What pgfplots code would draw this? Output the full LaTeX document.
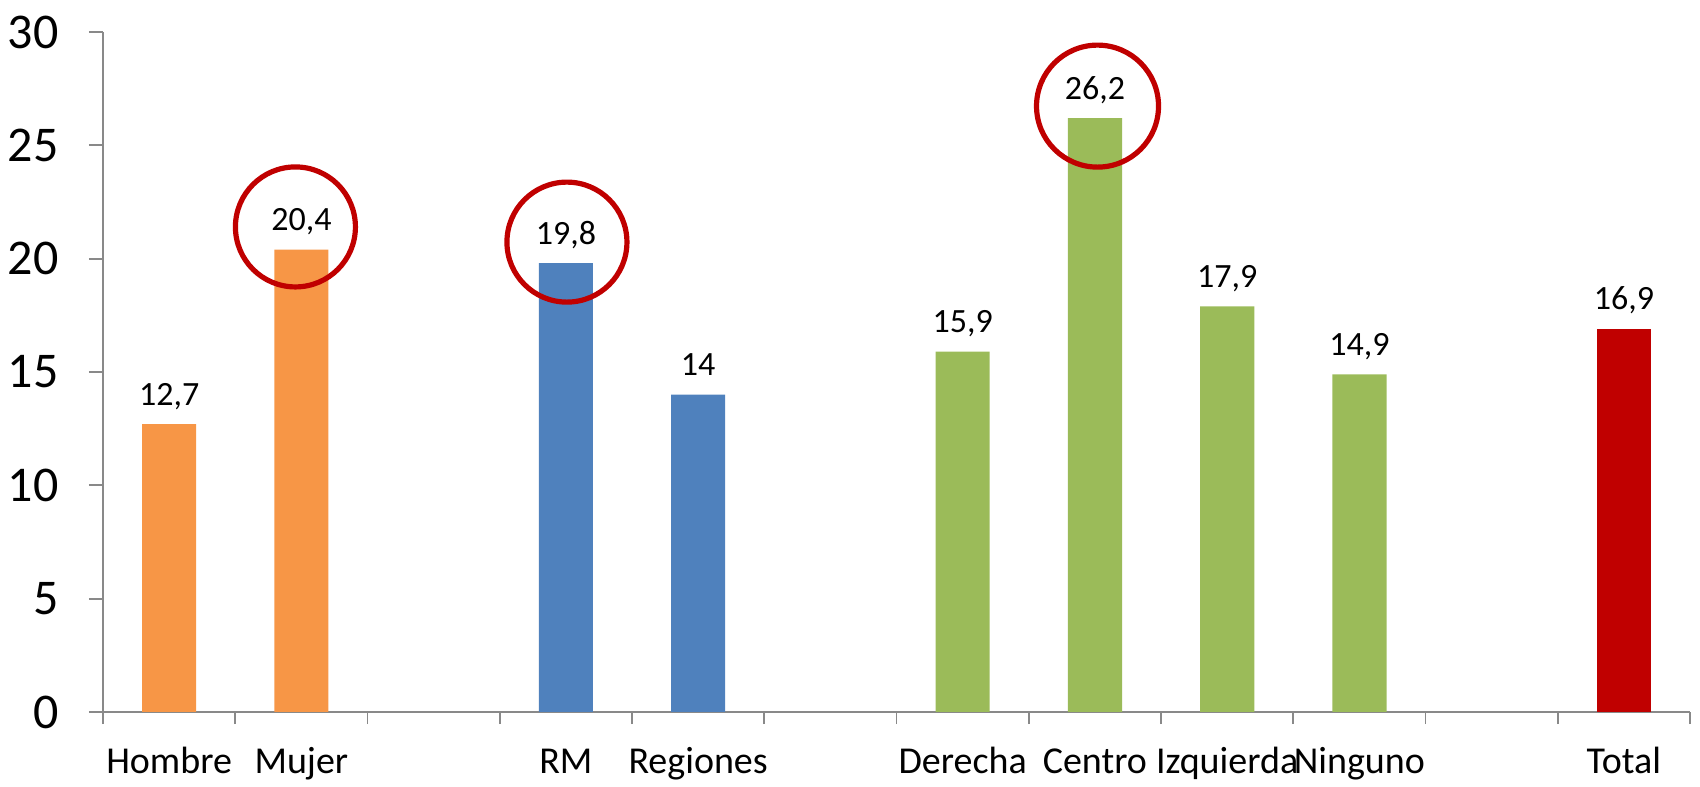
\documentclass[border=0pt]{standalone}
\usepackage{pgfplots}
\pgfplotsset{compat=1.18}
\usepackage{fontspec}
\setmainfont{Carlito}
\definecolor{cOrange}{HTML}{F79646}
\definecolor{cBlue}{HTML}{4F81BD}
\definecolor{cGreen}{HTML}{9BBB59}
\definecolor{cRed}{HTML}{C00000}
\definecolor{cAxis}{HTML}{898989}
\begin{document}
\begin{tikzpicture}
\useasboundingbox (-51.5pt,-37pt) rectangle (798.5pt,356pt);
\begin{axis}[
  at={(0,0)}, anchor=south west,
  scale only axis,
  width=793.5pt, height=340pt,
  xmin=-0.5, xmax=11.5, ymin=0, ymax=30,
  ybar, bar width=0.41, bar shift=0pt,
  axis x line*=bottom, axis y line*=left,
  axis line style={cAxis, line width=0.9pt},
  /pgf/number format/assume math mode=true,
  /pgf/number format/use comma,
  ytick={0,5,...,30},
  ytick style={cAxis, line width=0.9pt},
  major tick length=7pt,
  tick align=outside,
  yticklabel style={font=\fontsize{25}{30}\selectfont, anchor=east, inner sep=0pt, xshift=-15pt},
  xtick={0,...,11},
  xticklabels={Hombre,Mujer,,RM,Regiones,,Derecha,Centro,Izquierda,Ninguno,,Total},
  every major x tick/.append style={draw=none},
  minor xtick={-0.5,0.5,...,11.5},
  every minor x tick/.append style={draw=cAxis, line width=0.9pt},
  minor tick length=6pt,
  xticklabel style={font=\fontsize{19}{23}\selectfont, anchor=base, inner sep=0pt, yshift=-23.5pt},
  nodes near coords,
  nodes near coords style={font=\fontsize{17}{20}\selectfont, anchor=base, inner sep=0pt, yshift=9.5pt, black},
  every axis plot/.append style={draw=none},
  clip=false,
]
\addplot[fill=cOrange] coordinates {(0,12.7) (1,20.4)};
\addplot[fill=cBlue] coordinates {(3,19.8) (4,14)};
\addplot[fill=cGreen] coordinates {(6,15.9) (7,26.2) (8,17.9) (9,14.9)};
\addplot[fill=cRed] coordinates {(11,16.9)};
\draw[cRed, line width=2.6pt] (axis cs:0.955,21.4) circle[radius=30pt];
\draw[cRed, line width=2.6pt] (axis cs:3.008,20.73) circle[radius=30pt];
\draw[cRed, line width=2.6pt] (axis cs:7.02,26.73) circle[radius=30.5pt];
\end{axis}
\end{tikzpicture}
\end{document}
